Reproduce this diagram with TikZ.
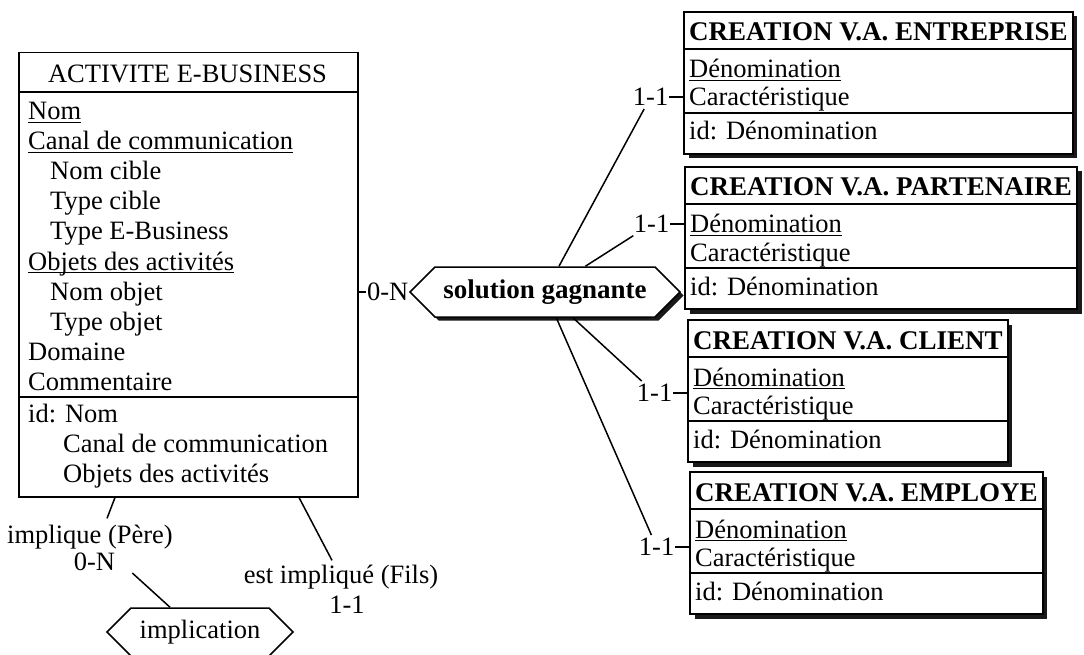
\documentclass[tikz,border=0pt]{standalone}
\usepackage{fontspec}
\setmainfont{Liberation Serif}
\usetikzlibrary{shapes.symbols,shadows,fit,backgrounds,calc}

% text sizes used throughout
\newcommand\fs{\fontsize{26.5pt}{30pt}\selectfont}
\newcommand\fsb{\fontsize{27pt}{30pt}\selectfont\bfseries}
% underline drawn just below the baseline (identifier attributes)
\newcommand\undl[1]{\setbox0=\hbox{#1}\rlap{\rule[-2.8pt]{\wd0}{1pt}}\box0}

% entity box with header, two attributes and an identifier
% #1 name, #2 left x, #3 top y, #4 header
\newcommand\entbox[4]{%
  \node[hdr] (#1h) at (#2+5,#3+29) {#4};
  \coordinate (#1r) at ([xshift=5pt]#1h.east);
  \coordinate (#1b) at (#2,#3+142);
  \coordinate (#1s) at (#2,#3+37);
  \coordinate (#1u) at (#2,#3+101);
  \begin{pgfonlayer}{background}
    \node[rbox, fit={(#2,#3) (#1r |- #1b)}] (#1) {};
  \end{pgfonlayer}
  \draw[sepline] (#1.west |- #1s) -- (#1.east |- #1s);
  \draw[sepline] (#1.west |- #1u) -- (#1.east |- #1u);
  \node[txt] (#1a) at (#2+5,#3+66) {\undl{Dénomination}};
  \node[txt] (#1c) at (#2+5,#3+94) {Caractéristique};
  \node[txt] (#1i) at (#2+5,#3+128) {id: Dénomination};
}

\begin{document}
\begin{tikzpicture}[x=1pt,y=-1pt,
  txt/.style={anchor=base west, inner sep=0pt, font=\fs},
  hdr/.style={anchor=base west, inner sep=0pt, font=\fsb},
  card/.style={font=\fs, inner xsep=0.5pt, inner ysep=3pt},
  role/.style={font=\fs, inner sep=0pt, anchor=base},
  ebox/.style={draw, line width=1.5pt, fill=white, inner sep=0pt},
  rbox/.style={ebox, drop shadow={shadow xshift=4.5pt, shadow yshift=-4.5pt, opacity=1, fill=black!90}},
  sepline/.style={line width=1.4pt},
  link/.style={line width=1.5pt},
  relhex/.style={shape=signal, signal to=west and east, signal pointer angle=90,
    draw, line width=1.5pt, fill=white, inner sep=0pt},
]
\useasboundingbox (0,0) rectangle (1084,655);
\begin{pgfonlayer}{background}
  \fill[white] (0,0) rectangle (1084,655);
\end{pgfonlayer}

% ---- entity ACTIVITE E-BUSINESS ----
\node[ebox, minimum width=339pt, minimum height=444pt, anchor=north west] (act) at (18,52) {};
\node[font=\fs, inner sep=0pt, anchor=base] (acth) at (187.5,83) {ACTIVITE E-BUSINESS};
\draw[sepline] (act.west |- 0,92) -- (act.east |- 0,92);
\draw[sepline] (act.west |- 0,397) -- (act.east |- 0,397);
\foreach \x/\y/\attr [count=\i] in {
  28/120/{\undl{Nom}},
  28/150/{\undl{Canal de communication}},
  50/180/{Nom cible},
  50/210/{Type cible},
  50/240/{Type E-Business},
  28/270/{\undl{Objets des activités}},
  50/300/{Nom objet},
  50/330/{Type objet},
  28/360/{Domaine},
  28/390/{Commentaire},
  28/422/{id: Nom},
  63/452/{Canal de communication},
  63/482/{Objets des activités}}
  \node[txt] (att\i) at (\x,\y) {\attr};

% ---- relationship solution gagnante ----
\node[relhex, font=\fsb, minimum width=270pt, minimum height=50pt,
  drop shadow={shadow xshift=3.5pt, shadow yshift=-3.5pt, opacity=1, fill=black!90}]
  (sg) at (545,292) {solution gagnante};
\node[card, anchor=east] (lN) at (sg.west) {0-N};
\draw[link] (act.east |- lN) -- (lN.west);

% ---- the four CREATION entities ----
\entbox{ent}{684}{12}{CREATION V.A. ENTREPRISE}
\entbox{par}{685}{167}{CREATION V.A. PARTENAIRE}
\entbox{cli}{688}{320}{CREATION V.A. CLIENT}
\entbox{emp}{690}{472}{CREATION V.A. EMPLOYE}

\node[card, anchor=east] (lE) at (669,97) {1-1};
\node[card, anchor=east] (lP) at (670,224) {1-1};
\node[card, anchor=east] (lC) at (673,393) {1-1};
\node[card, anchor=east] (lM) at (675,547) {1-1};
\draw[link] (lE.east) -- (lE.east -| ent.west);
\draw[link] (lP.east) -- (lP.east -| par.west);
\draw[link] (lC.east) -- (lC.east -| cli.west);
\draw[link] (lM.east) -- (lM.east -| emp.west);
\draw[link] (sg) -- (lE);
\draw[link] (sg) -- (lP);
\draw[link] (sg) -- (lC);
\draw[link] (sg) -- (lM);

% ---- recursive relationship implication ----
\node[relhex, font=\fs, minimum width=186pt, minimum height=48pt] (impl) at (200,632) {implication};
\node[role] (rP) at (90,543) {implique (Père)};
\node[role] (cP) at (94.5,570) {0-N};
\node[role] (rF) at (341,583) {est impliqué (Fils)};
\node[role] (cF) at (347,613) {1-1};
\draw[link] ([xshift=97pt]act.south west) -- ([shift={(17pt,6pt)}]rP.north);
\draw[link] ([shift={(17pt,-3pt)}]cP.base east) -- ([xshift=-30pt]impl.north);
\draw[link] ([xshift=281pt]act.south west) -- ([shift={(-9pt,4pt)}]rF.north);
\end{tikzpicture}
\end{document}
